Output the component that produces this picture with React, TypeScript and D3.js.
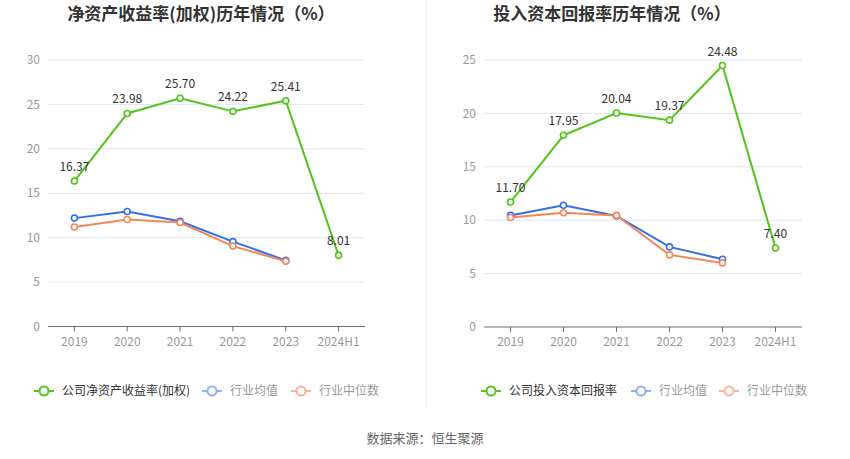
import React from "react";
import * as d3 from "d3";

const categories = ["2019", "2020", "2021", "2022", "2023", "2024H1"];

const roeCompany = [16.37, 23.98, 25.7, 24.22, 25.41, 8.01];
const roeIndustryAvg = [12.2, 12.95, 11.85, 9.55, 7.45];
const roeIndustryMedian = [11.2, 12.05, 11.7, 9.05, 7.35];
const roeTicks = [0, 5, 10, 15, 20, 25, 30];

const roicCompany = [11.7, 17.95, 20.04, 19.37, 24.48, 7.4];
const roicIndustryAvg = [10.45, 11.4, 10.4, 7.5, 6.35];
const roicIndustryMedian = [10.25, 10.7, 10.45, 6.75, 6.0];
const roicTicks = [0, 5, 10, 15, 20, 25];

const FONT = "'Noto Sans CJK SC', 'Noto Sans', sans-serif";
const GREEN = "#52c41a";
const BLUE = "#3470e8";
const ORANGE = "#f6855a";
const BLUE_L = "#8eb0f3";
const ORANGE_L = "#f9b59d";

type PanelProps = {
  title: string;
  titleX: number;
  x0: number;
  x1: number;
  yTop: number;
  yBottom: number;
  yMax: number;
  ticks: number[];
  company: number[];
  avg: number[];
  median: number[];
  legendLabel: string;
  legendX: number[];
};

function Series({ data, x, y, color }: { data: number[]; x: d3.ScaleBand<string>; y: d3.ScaleLinear<number, number>; color: string }) {
  const pts: [number, number][] = data.map((v, i) => [x(categories[i])! + x.bandwidth() / 2, y(v)]);
  const line = d3.line<[number, number]>()(pts) || "";
  return (
    <g>
      <path d={line} fill="none" stroke={color} strokeWidth={2} />
      {pts.map((p, i) => (
        <circle key={i} cx={p[0]} cy={p[1]} r={3} fill="#fff" stroke={color} strokeWidth={1.6} />
      ))}
    </g>
  );
}

function LegendItem({ x, y, color, label, textColor }: { x: number; y: number; color: string; label: string; textColor: string }) {
  return (
    <g>
      <line x1={x} x2={x + 20} y1={y} y2={y} stroke={color} strokeWidth={2} />
      <circle cx={x + 10} cy={y} r={4.5} fill="#fff" stroke={color} strokeWidth={2} />
      <text x={x + 28} y={y} dy="0.35em" fontSize={12} fill={textColor} fontFamily={FONT}>
        {label}
      </text>
    </g>
  );
}

function Panel(p: PanelProps) {
  const x = d3.scaleBand<string>().domain(categories).range([p.x0, p.x1]);
  const y = d3.scaleLinear().domain([0, p.yMax]).range([p.yBottom, p.yTop]);
  return (
    <g>
      <text x={p.titleX} y={14} dy="0.35em" textAnchor="middle" fontSize={17} fontWeight="bold" fill="#333" fontFamily={FONT}>
        {p.title}
      </text>
      {p.ticks.map((t) => (
        <g key={t}>
          {t > 0 && <line x1={p.x0} x2={p.x1} y1={y(t)} y2={y(t)} stroke="#e0e6f1" strokeWidth={1} />}
          <text x={p.x0 - 8} y={y(t)} dy="0.35em" textAnchor="end" fontSize={12} fill="#999" fontFamily={FONT}>
            {t}
          </text>
        </g>
      ))}
      <line x1={p.x0} x2={p.x1} y1={p.yBottom} y2={p.yBottom} stroke="#6e7079" strokeWidth={1} />
      {categories.map((c) => {
        const cx = x(c)! + x.bandwidth() / 2;
        return (
          <g key={c}>
            <line x1={cx} x2={cx} y1={p.yBottom} y2={p.yBottom + 5} stroke="#6e7079" strokeWidth={1} />
            <text x={cx} y={p.yBottom + 15} dy="0.35em" textAnchor="middle" fontSize={12} fill="#999" fontFamily={FONT}>
              {c}
            </text>
          </g>
        );
      })}
      <Series data={p.avg} x={x} y={y} color={BLUE} />
      <Series data={p.median} x={x} y={y} color={ORANGE} />
      <Series data={p.company} x={x} y={y} color={GREEN} />
      {p.company.map((v, i) => (
        <text
          key={i}
          x={x(categories[i])! + x.bandwidth() / 2}
          y={y(v) - 10}
          textAnchor="middle"
          fontSize={12}
          fill="#333"
          fontFamily={FONT}
        >
          {v.toFixed(2)}
        </text>
      ))}
      <LegendItem x={p.legendX[0]} y={391} color={GREEN} label={p.legendLabel} textColor="#333" />
      <LegendItem x={p.legendX[1]} y={391} color={BLUE_L} label="行业均值" textColor="#999" />
      <LegendItem x={p.legendX[2]} y={391} color={ORANGE_L} label="行业中位数" textColor="#999" />
    </g>
  );
}

export default function App() {
  return (
    <svg width={850} height={459} style={{ position: "absolute", left: 0, top: 0, background: "#fff" }}>
      <rect width={850} height={459} fill="#fff" />
      <line x1={426} x2={426} y1={0} y2={408} stroke="#eeeeee" strokeWidth={1} />
      <Panel
        title="净资产收益率(加权)历年情况（%）"
        titleX={201}
        x0={48}
        x1={365}
        yTop={60}
        yBottom={326.5}
        yMax={30}
        ticks={roeTicks}
        company={roeCompany}
        avg={roeIndustryAvg}
        median={roeIndustryMedian}
        legendLabel="公司净资产收益率(加权)"
        legendX={[34, 202, 291]}
      />
      <Panel
        title="投入资本回报率历年情况（%）"
        titleX={612}
        x0={484}
        x1={802}
        yTop={60}
        yBottom={327}
        yMax={25}
        ticks={roicTicks}
        company={roicCompany}
        avg={roicIndustryAvg}
        median={roicIndustryMedian}
        legendLabel="公司投入资本回报率"
        legendX={[481, 631, 719]}
      />
      <text x={425} y={438} dy="0.35em" textAnchor="middle" fontSize={13} fill="#666" fontFamily={FONT}>
        数据来源：恒生聚源
      </text>
    </svg>
  );
}
